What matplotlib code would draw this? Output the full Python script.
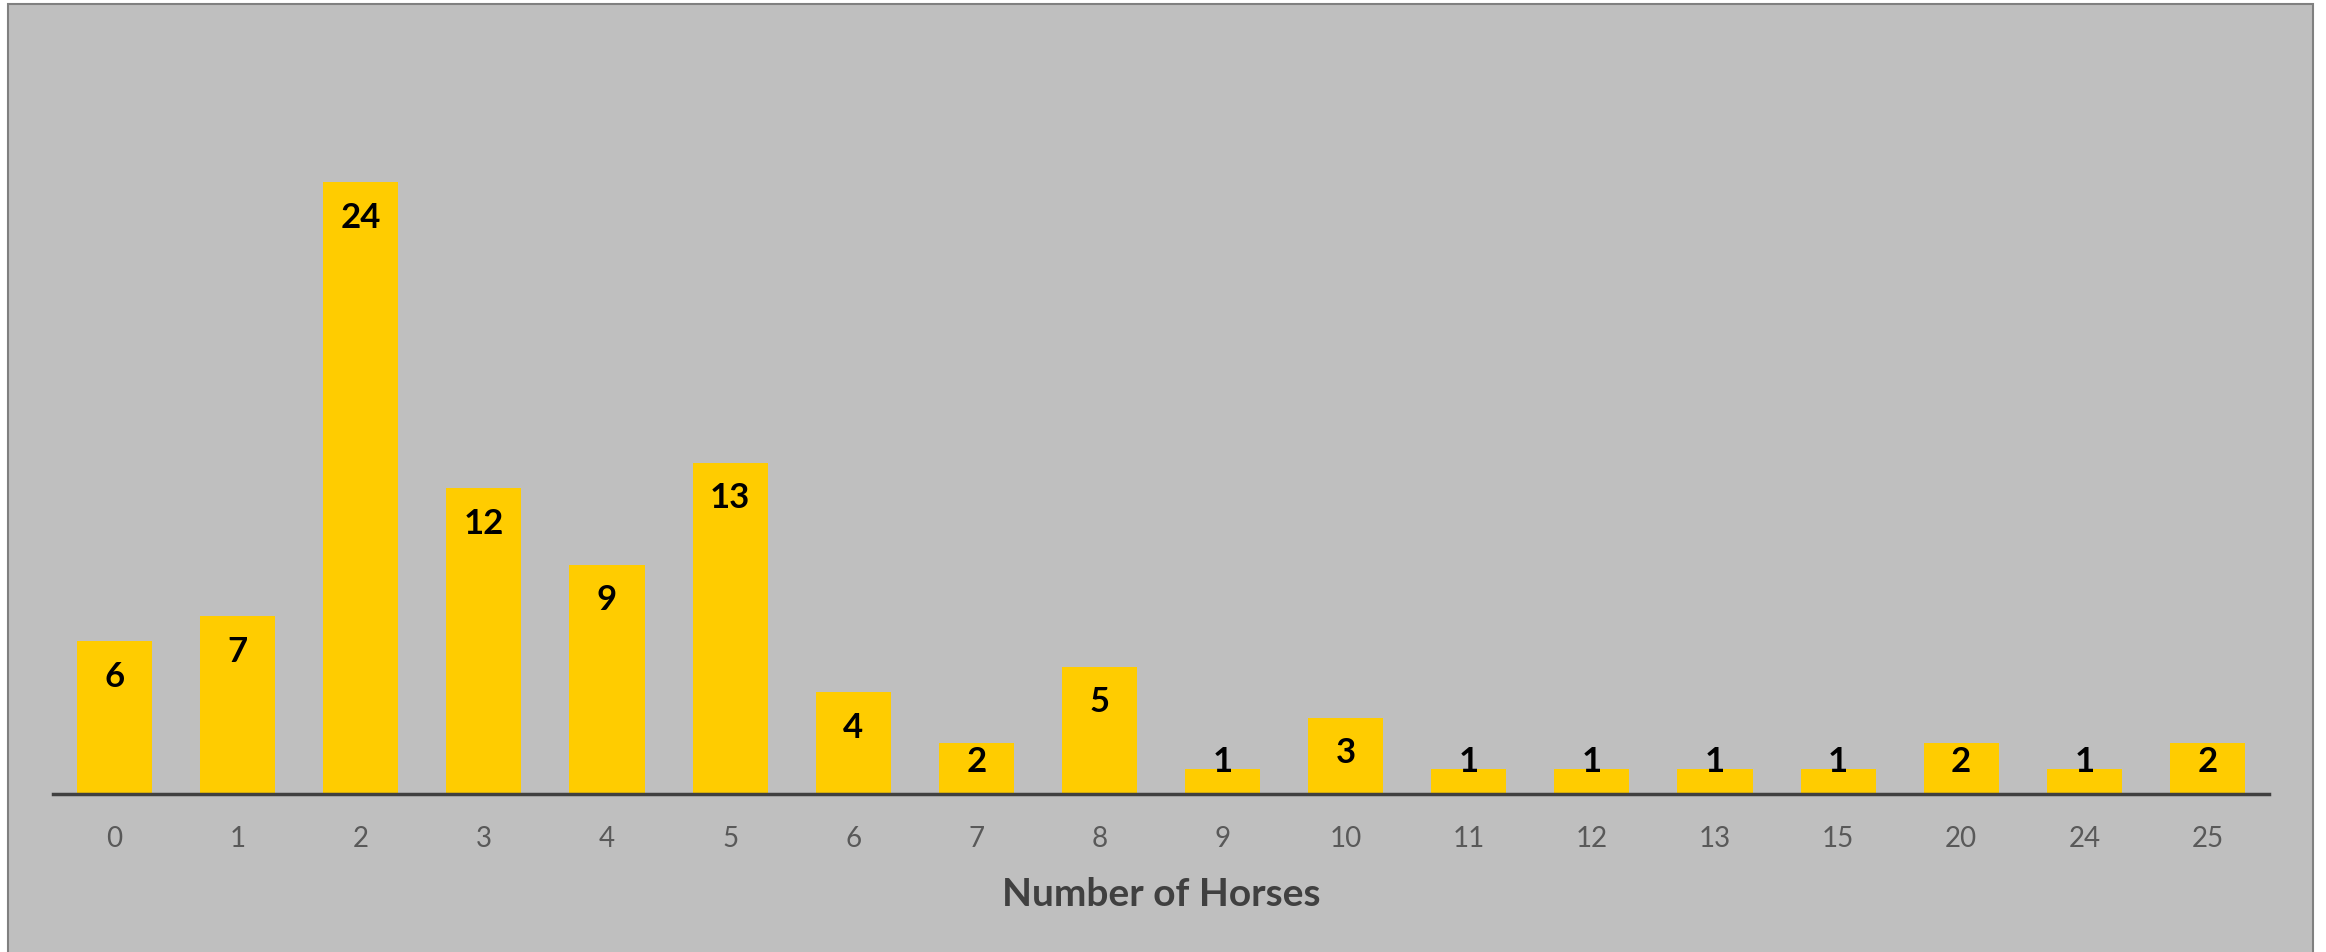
import matplotlib
matplotlib.use("Agg")
import matplotlib.pyplot as plt
from matplotlib.patches import Rectangle

# Data
horses = ["0", "1", "2", "3", "4", "5", "6", "7", "8", "9",
          "10", "11", "12", "13", "15", "20", "24", "25"]
counts = [6, 7, 24, 12, 9, 13, 4, 2, 5, 1, 3, 1, 1, 1, 1, 2, 1, 2]

BG = "#BFBFBF"
BAR = "#FFCC00"
DARK = "#404040"

plt.rcParams["font.family"] = ["Lato", "DejaVu Sans"]

fig = plt.figure(figsize=(23.26, 9.53), dpi=100, facecolor="white")

# chart area background with thin gray border (behind the axes)
frame = Rectangle((8 / 2326, -0.02), (2313 - 8) / 2326, 1 - 5 / 953 + 0.02,
                  transform=fig.transFigure, facecolor=BG,
                  edgecolor="#808080", linewidth=1.5, zorder=-10)
fig.add_artist(frame)

ax = fig.add_axes([53 / 2326, 1 - 795 / 953, (2269 - 53) / 2326, (795 - 30) / 953])
ax.set_facecolor("none")
ax.set_zorder(1)

x = range(len(horses))
ax.bar(x, counts, width=0.61, color=BAR, zorder=2)

ax.set_xlim(-0.5, len(horses) - 0.5)
ax.set_ylim(0, 30)

# value labels, inside end (kept above the axis for short bars)
px_per_unit = (795 - 30) / 30
for i, v in enumerate(counts):
    y = max(v - 35 / px_per_unit, 33 / px_per_unit)
    ax.text(i, y, str(v), ha="center", va="center", fontsize=25,
            fontweight="bold", color="black", zorder=3)

for s in ["top", "right", "left"]:
    ax.spines[s].set_visible(False)
ax.spines["bottom"].set_color(DARK)
ax.spines["bottom"].set_linewidth(2.5)
ax.spines["bottom"].set_zorder(4)

ax.set_yticks([])
ax.set_xticks(list(x))
ax.set_xticklabels(horses, fontsize=20, color="#595959")
ax.tick_params(axis="x", length=0, pad=22)

ax.set_xlabel("Number of Horses", fontsize=28, fontweight="bold", color=DARK, labelpad=18)

fig.savefig("out.png", dpi=100, facecolor="white")
